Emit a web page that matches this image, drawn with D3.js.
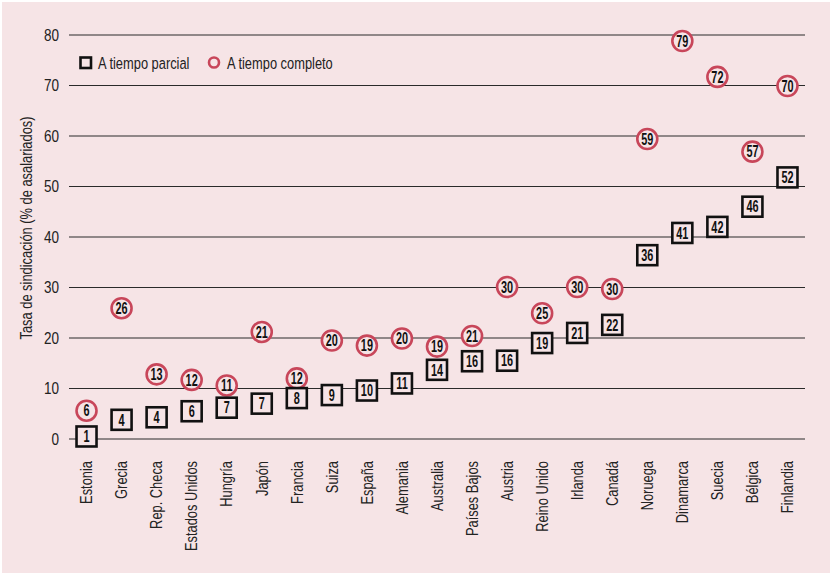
<!DOCTYPE html>
<html>
<head>
<meta charset="utf-8">
<script src="https://cdn.jsdelivr.net/npm/d3@7"></script>
<style>
  body { margin: 0; background: #fff; }
  svg text { font-family: "Liberation Sans", Arial, sans-serif; }
</style>
</head>
<body>
<div id="chart"></div>
<script>
// countries, sorted by part-time rate
let countries = ["Estonia", "Grecia", "Rep. Checa", "Estados Unidos", "Hungría", "Japón", "Francia",
    "Suiza", "España", "Alemania", "Australia", "Países Bajos", "Austria", "Reino Unido", "Irlanda",
    "Canadá", "Noruega", "Dinamarca", "Suecia", "Bélgica", "Finlandia"];

// A tiempo parcial (position values and printed labels)
let partValues = [0.5, 3.8, 4.3, 5.5, 6.2, 7.0, 8.1, 8.7, 9.6, 11.0, 13.7, 15.4, 15.5, 19.0, 21.0, 22.6, 36.4, 40.8, 42.0, 46.0, 51.8];
let partLabels = [1, 4, 4, 6, 7, 7, 8, 9, 10, 11, 14, 16, 16, 19, 21, 22, 36, 41, 42, 46, 52];

// A tiempo completo
let fullValues = [5.6, 25.9, 12.8, 11.7, 10.6, 21.2, 12.0, 19.5, 18.5, 19.9, 18.3, 20.4, 30.1, 24.9, 30.1, 29.7, 59.4, 78.8, 71.7, 56.9, 69.9];
let fullLabels = [6, 26, 13, 12, 11, 21, 12, 20, 19, 20, 19, 21, 30, 25, 30, 30, 59, 79, 72, 57, 70];

let yTicks = [0, 10, 20, 30, 40, 50, 60, 70, 80];

const width = 830;
const height = 573;
const bg = "#f6e4e6";
const red = "#c8465a";
const narrow = 0.78;   // squeeze the text, the original font is condensed
const narrowBold = 0.68;

let svg = d3.select("#chart")
    .append("svg")
    .attr("width", width)
    .attr("height", height);

svg.append("rect")
    .attr("x", 2).attr("y", 2)
    .attr("width", width - 2).attr("height", height - 2)
    .attr("fill", bg);

let x = d3.scaleBand()
    .domain(countries)
    .range([69, 805]);

let y = d3.scaleLinear()
    .domain([0, 80])
    .range([439, 35]);

// gridlines
svg.append("g")
    .selectAll("line")
    .data(yTicks)
    .enter()
    .append("line")
    .attr("x1", 69)
    .attr("x2", 805)
    .attr("y1", d => y(d))
    .attr("y2", d => y(d))
    .attr("stroke", "#2a2a2a")
    .attr("stroke-width", 1.2);

// y tick labels
svg.append("g")
    .selectAll("text")
    .data(yTicks)
    .enter()
    .append("text")
    .attr("transform", d => "translate(59," + y(d) + ") scale(0.82,1)")
    .attr("dy", "0.35em")
    .attr("text-anchor", "end")
    .attr("font-size", "16.5px")
    .attr("fill", "#222")
    .text(d => d);

// y axis title
svg.append("text")
    .attr("transform", "translate(32,228) rotate(-90) scale(" + narrow + ",1)")
    .attr("text-anchor", "middle")
    .attr("font-size", "16.5px")
    .attr("fill", "#222")
    .text("Tasa de sindicación (% de asalariados)");

// x labels
svg.append("g")
    .selectAll("text")
    .data(countries)
    .enter()
    .append("text")
    .attr("transform", d => "translate(" + (x(d) + x.bandwidth() / 2) + ",461) rotate(-90) scale(" + narrow + ",1)")
    .attr("dy", "0.35em")
    .attr("text-anchor", "end")
    .attr("font-size", "16.5px")
    .attr("fill", "#222")
    .text(d => d);

let fullData = countries.map((c, i) => ({ c: c, v: fullValues[i], label: fullLabels[i] }));
let partData = countries.map((c, i) => ({ c: c, v: partValues[i], label: partLabels[i] }));

// full-time circles
let full = svg.append("g")
    .selectAll("g")
    .data(fullData)
    .enter()
    .append("g")
    .attr("transform", d => "translate(" + (x(d.c) + x.bandwidth() / 2) + "," + y(d.v) + ")");
full.append("circle")
    .attr("r", 10)
    .attr("fill", bg)
    .attr("stroke", red)
    .attr("stroke-width", 2.6);
full.append("text")
    .attr("transform", "scale(" + narrowBold + ",1)")
    .attr("text-anchor", "middle")
    .attr("dy", "0.36em")
    .attr("font-size", "16px")
    .attr("font-weight", "bold")
    .attr("fill", "#111")
    .text(d => d.label);

// part-time squares
let part = svg.append("g")
    .selectAll("g")
    .data(partData)
    .enter()
    .append("g")
    .attr("transform", d => "translate(" + (x(d.c) + x.bandwidth() / 2) + "," + y(d.v) + ")");
part.append("rect")
    .attr("x", -10).attr("y", -10)
    .attr("width", 20).attr("height", 20)
    .attr("fill", bg)
    .attr("stroke", "#111")
    .attr("stroke-width", 2.6);
part.append("text")
    .attr("transform", "scale(" + narrowBold + ",1)")
    .attr("text-anchor", "middle")
    .attr("dy", "0.36em")
    .attr("font-size", "16px")
    .attr("font-weight", "bold")
    .attr("fill", "#111")
    .text(d => d.label);

// legend
let legend = svg.append("g");
legend.append("rect")
    .attr("x", 80.5).attr("y", 57.5)
    .attr("width", 10.5).attr("height", 10.5)
    .attr("fill", "none")
    .attr("stroke", "#111")
    .attr("stroke-width", 2.6);
legend.append("text")
    .attr("transform", "translate(98,63) scale(" + narrow + ",1)")
    .attr("dy", "0.35em")
    .attr("font-size", "16.5px")
    .attr("fill", "#222")
    .text("A tiempo parcial");
legend.append("circle")
    .attr("cx", 214).attr("cy", 62.5)
    .attr("r", 5)
    .attr("fill", "none")
    .attr("stroke", red)
    .attr("stroke-width", 2.6);
legend.append("text")
    .attr("transform", "translate(227,63) scale(" + narrow + ",1)")
    .attr("dy", "0.35em")
    .attr("font-size", "16.5px")
    .attr("fill", "#222")
    .text("A tiempo completo");
</script>
</body>
</html>
